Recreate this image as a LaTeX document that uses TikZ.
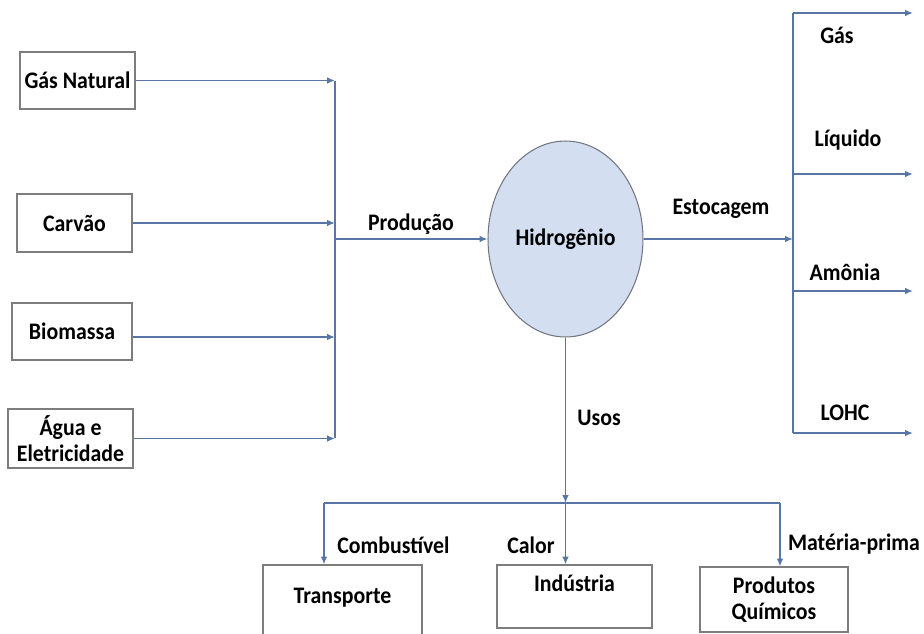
\documentclass[tikz,border=0pt]{standalone}
\usepackage{fontspec}
\setmainfont{Carlito}[FakeStretch=0.92]
\usetikzlibrary{arrows.meta, shapes.geometric}

\definecolor{linecol}{RGB}{88,118,165}
\definecolor{boxcol}{RGB}{125,125,125}
\definecolor{h2fill}{RGB}{211,223,241}
\definecolor{h2edge}{RGB}{115,118,128}

\begin{document}
\begin{tikzpicture}[x=0.02cm, y=-0.02cm,
        box/.style={draw=boxcol, line width=0.6pt, align=center, inner sep=1pt,
            font=\bfseries\fontsize{13.5}{14.5}\selectfont},
        lbl/.style={font=\bfseries\fontsize{13.5}{14.5}\selectfont, inner sep=0pt},
        line/.style={draw=linecol, line width=0.9pt},
        arr/.style={line, -{Latex[length=4.5pt, width=3.8pt]}}]

    \useasboundingbox (0, 0) rectangle (924, 633);

    % fontes
    \node[box, minimum width=2.3cm, minimum height=1.14cm] (gas)    at (77.5, 80.5) {Gás Natural};
    \node[box, minimum width=2.3cm, minimum height=1.16cm] (carvao) at (74.5, 223)  {Carvão};
    \node[box, minimum width=2.4cm, minimum height=1.14cm] (bio)    at (72, 331.5)  {Biomassa};
    \node[box, minimum width=2.5cm, minimum height=1.18cm] (agua)   at (70.5, 438.5) {Água e\\Eletricidade};

    % hidrogenio
    \node[ellipse, draw=h2edge, line width=0.6pt, fill=h2fill, inner sep=0pt,
          minimum width=3.1cm, minimum height=3.92cm,
          font=\bfseries\fontsize{13.5}{14.5}\selectfont] (h2) at (565.5, 239) {Hidrogênio};

    % usos
    \node[box, minimum width=3.18cm, minimum height=1.6cm, text depth=11pt]  (transp) at (342.5, 605)   {Transporte};
    \node[box, minimum width=3.1cm,  minimum height=1.26cm, text depth=15pt] (ind)    at (574.5, 596.5) {Indústria};
    \node[box, minimum width=2.96cm, minimum height=1.3cm]                   (prod)   at (774, 599.5)   {Produtos\\Químicos};

    % barramentos
    \coordinate (ltop) at (335, 81);
    \coordinate (lbot) at (335, 438);
    \coordinate (rtop) at (793, 13);
    \coordinate (rbot) at (793, 433);
    \coordinate (bl)   at (324, 503);
    \coordinate (br)   at (780, 503);

    \coordinate (gasend) at (913, 13);
    \coordinate (liqend) at (913, 174);
    \coordinate (amoend) at (913, 291);
    \coordinate (lohend) at (913, 433);

    \draw[line] (ltop) -- (lbot);
    \draw[line] (rtop) -- (rbot);
    \draw[line] (bl) -- (br);

    \draw[arr] (gas.east)    -- (gas.east -| ltop);
    \draw[arr] (carvao.east) -- (carvao.east -| ltop);
    \draw[arr] (bio.east |- 0, 337)  -- (ltop |- 0, 337);
    \draw[arr] (agua.east)   -- (agua.east -| ltop);
    \draw[arr] (h2.west -| ltop) -- (h2.west);

    \draw[arr] (h2.east) -- (h2.east -| rtop);
    \draw[arr] (gasend -| rtop) -- (gasend);
    \draw[arr] (liqend -| rtop) -- (liqend);
    \draw[arr] (amoend -| rtop) -- (amoend);
    \draw[arr] (lohend -| rtop) -- (lohend);

    \draw[arr] (h2.south) -- (h2.south |- bl);
    \draw[arr] (bl) -- (bl |- transp.north);
    \draw[arr] (h2.south |- bl) -- (h2.south |- ind.north);
    \draw[arr] (br) -- (br |- prod.north);

    % rotulos
    \node[lbl] (lprod)  at (411, 224) {Produção};
    \node[lbl] (lestoc) at (721, 209) {Estocagem};
    \node[lbl] (lgas)   at (837, 35)  {Gás};
    \node[lbl] (lliq)   at (848, 140) {Líquido};
    \node[lbl] (lamo)   at (845, 272) {Amônia};
    \node[lbl] (llohc)  at (845, 413) {LOHC};
    \node[lbl] (lusos)  at (599, 418) {Usos};
    \node[lbl] (lcomb)  at (393.5, 545) {Combustível};
    \node[lbl] (lcalor) at (531, 545) {Calor};
    \node[lbl] (lmat)   at (854, 544) {Matéria-prima};

\end{tikzpicture}
\end{document}
